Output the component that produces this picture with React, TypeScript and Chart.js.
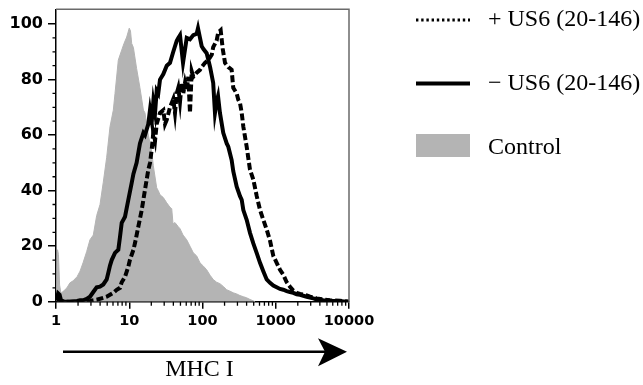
import React, { useEffect, useRef } from 'react';
import { Chart, registerables } from 'chart.js';

Chart.register(...registerables);

// ---- data ----
const xTickLabels = ['1', '10', '100', '1000', '10000'];
const yTickValues = [0, 20, 40, 60, 80, 100];
const yMinorValues = [5, 10, 15, 25, 30, 35, 45, 50, 55, 65, 70, 75, 85, 90, 95];
const legendLabels = ['+ US6 (20-146)', '\u2212 US6 (20-146)', 'Control'];
const axisTitle = 'MHC I';

const controlX = [1.02, 1.05, 1.08, 1.12, 1.17, 1.29, 1.41, 1.55, 1.71, 1.94, 2.13, 2.34, 2.62, 2.91, 3.23, 3.59, 3.99, 4.42, 4.92, 5.46, 6.06, 6.39, 7.09, 7.89, 8.48, 9.23, 10.0, 10.4, 10.8, 11.4, 12.6, 14.0, 15.6, 16.4, 18.2, 20.3, 21.3, 23.7, 24.9, 26.3, 29.2, 32.5, 36.0, 38.0, 39.6, 42.1, 46.7, 49.3, 54.2, 60.9, 67.5, 74.9, 83.3, 92.4, 103, 114, 127, 140, 156, 173, 192, 214, 237, 263, 293, 325, 361, 401, 445, 494, 521];
const controlY = [2, 18.7, 17, 6, 3, 4, 5, 6.8, 7.5, 9, 11, 14, 18, 22.3, 24, 31, 35, 43, 52, 63, 69, 75, 87, 90.6, 93, 95.3, 98.5, 97.5, 93, 91.5, 84, 77, 69, 68, 60, 54, 49, 41, 40, 38.5, 37.5, 35.6, 34, 33.5, 28, 28.5, 27, 26.3, 24, 22.3, 20, 17.6, 16.5, 14, 12.8, 11.5, 9.5, 8, 7, 6.5, 5.5, 4.3, 3.8, 3.2, 2.8, 2.2, 1.8, 1.4, 0.8, 0.3, 0];

const minusX = [1.02, 1.07, 1.12, 1.17, 1.29, 1.55, 1.94, 2.13, 2.34, 2.62, 2.91, 3.23, 3.59, 3.99, 4.42, 4.92, 5.18, 5.46, 5.76, 6.39, 7.09, 7.48, 7.89, 8.75, 9.71, 10.8, 11.4, 12.6, 14.0, 15.6, 16.4, 18.2, 19.2, 20.3, 21.3, 22.5, 23.7, 24.9, 26.3, 29.2, 32.5, 36.0, 39.9, 44.5, 46.7, 49.3, 54.2, 60.9, 67.5, 74.9, 83.3, 86.8, 92.4, 97.5, 103, 114, 127, 140, 148, 156, 163, 173, 192, 214, 225, 250, 263, 293, 325, 343, 361, 401, 445, 494, 550, 610, 676, 752, 835, 926, 1030, 1143, 1268, 1411, 1565, 1736, 1932, 2143, 2646, 3255, 3622, 4457, 5503, 7535, 10000];
const minusY = [0.5, 3, 2.5, 0.5, 0, 0, 0.3, 0.5, 0.5, 1, 1.8, 3.5, 5.2, 5.4, 6.2, 8, 10.4, 13, 15, 17.6, 18.7, 23.4, 28.4, 30.6, 36.7, 42.8, 46, 50, 57, 60.8, 60, 64, 69, 65, 72, 68, 76, 75, 80, 82, 85, 86, 90, 94, 95, 96, 86, 95, 94.5, 96, 96.5, 98.5, 95, 92, 91, 89.5, 84.5, 78.8, 68, 72, 74, 68, 60.8, 57, 55.8, 51, 47, 41.4, 38, 36.7, 33, 29.5, 24.8, 21, 17.5, 14, 11, 8, 6.8, 5.8, 5.2, 4.6, 4.3, 3.8, 3.5, 3.2, 2.7, 2.5, 1.8, 1.2, 0.8, 0.5, 0.3, 0.2, 0];

const plusX = [1.02, 1.55, 2.34, 2.91, 3.59, 4.42, 4.92, 5.46, 6.06, 6.74, 7.48, 7.89, 8.75, 9.71, 10.2, 11.4, 12.0, 13.3, 14.8, 16.4, 18.2, 19.2, 20.3, 21.3, 22.5, 23.7, 26.3, 29.2, 30.8, 32.5, 36.0, 38.0, 39.9, 42.1, 44.5, 46.7, 49.3, 52.0, 54.7, 57.7, 60.9, 64.0, 67.5, 71.2, 74.9, 83.3, 92.4, 97.5, 108, 120, 134, 140, 156, 164, 177, 189, 203, 225, 250, 263, 293, 308, 325, 343, 361, 401, 445, 494, 550, 610, 676, 752, 835, 926, 1030, 1143, 1268, 1411, 1565, 1736, 1932, 2143, 2646, 2935, 3622, 4457, 5503, 7535, 10000];
const plusY = [0, 0, 0, 0.3, 0.7, 1.4, 1.8, 2.5, 3.2, 4.3, 5, 7, 9, 12.6, 15, 18.7, 21.2, 27, 33, 40.3, 47.5, 50, 55, 60.8, 58, 64, 68, 69, 64, 65.5, 70, 71.6, 73, 68, 75, 77, 72, 78.8, 75, 78.8, 76, 81, 68, 83, 81, 82.5, 83.5, 84.5, 86, 87, 89, 91.7, 94, 97, 97.8, 91, 86, 84.5, 83.5, 77, 75, 72.7, 71.6, 68, 63, 55.8, 47.5, 44, 38, 33, 29.5, 26, 22, 16.5, 14, 11.5, 9.7, 7, 5.4, 4, 3.2, 2.8, 2.3, 1.8, 1.2, 0.8, 0.5, 0.3, 0];

const pairs = (xs: number[], ys: number[]) => xs.map((x, i) => ({ x, y: ys[i] }));

const SANS = '"DejaVu Sans", "Liberation Sans", Arial, sans-serif';
const SERIF = '"Liberation Serif", "Times New Roman", Times, serif';
const GREY = '#b4b4b4';

const decorPlugin = {
  id: 'decor',
  afterDraw(chart: any) {
    const ctx = chart.ctx as CanvasRenderingContext2D;
    const { left, right, top, bottom } = chart.chartArea;
    const xs = chart.scales.x;
    const ys = chart.scales.y;
    ctx.save();
    // frame (top and right)
    ctx.strokeStyle = '#6a6a6a';
    ctx.lineWidth = 1.5;
    ctx.beginPath();
    ctx.moveTo(left, top);
    ctx.lineTo(right, top);
    ctx.lineTo(right, bottom);
    ctx.stroke();
    // minor ticks
    ctx.strokeStyle = '#000';
    ctx.lineWidth = 1.3;
    ctx.beginPath();
    for (let d = 1; d < 10000; d *= 10) {
      for (let m = 2; m <= 9; m++) {
        const px = xs.getPixelForValue(m * d);
        ctx.moveTo(px, bottom);
        ctx.lineTo(px, bottom + 4);
      }
    }
    yMinorValues.forEach((v) => {
      const py = ys.getPixelForValue(v);
      ctx.moveTo(left - 3.5, py);
      ctx.lineTo(left, py);
    });
    ctx.stroke();

    // legend
    const lx0 = 416, lx1 = 470, tx = 488;
    ctx.strokeStyle = '#000';
    ctx.lineWidth = 3;
    ctx.setLineDash([2.4, 2.8]);
    ctx.beginPath();
    ctx.moveTo(lx0, 20);
    ctx.lineTo(lx1, 20);
    ctx.stroke();
    ctx.setLineDash([]);
    ctx.lineWidth = 4;
    ctx.beginPath();
    ctx.moveTo(lx0, 83.5);
    ctx.lineTo(lx1, 83.5);
    ctx.stroke();
    ctx.fillStyle = GREY;
    ctx.fillRect(lx0, 134, lx1 - lx0, 23);
    ctx.fillStyle = '#000';
    ctx.font = `24px ${SERIF}`;
    ctx.textAlign = 'left';
    ctx.textBaseline = 'alphabetic';
    ctx.fillText(legendLabels[0], tx, 26);
    ctx.fillText(legendLabels[1], tx, 90);
    ctx.fillText(legendLabels[2], tx, 154);

    // arrow
    const ay = 351.7;
    ctx.lineWidth = 2.5;
    ctx.beginPath();
    ctx.moveTo(63, ay);
    ctx.lineTo(325, ay);
    ctx.stroke();
    ctx.beginPath();
    ctx.moveTo(347, ay);
    ctx.lineTo(318, ay - 13.5);
    ctx.lineTo(325, ay);
    ctx.lineTo(318, ay + 14.5);
    ctx.closePath();
    ctx.fill();

    // axis title
    ctx.font = `24px ${SERIF}`;
    ctx.textAlign = 'center';
    ctx.fillText(axisTitle, 199.5, 376);
    ctx.restore();
  },
};

export default function App() {
  const ref = useRef<HTMLCanvasElement>(null);
  useEffect(() => {
    document.body.style.margin = '0';
    const canvas = ref.current!;
    const chart = new Chart(canvas, {
      type: 'line',
      data: {
        datasets: [
          {
            label: legendLabels[2],
            data: pairs(controlX, controlY),
            borderColor: GREY,
            backgroundColor: GREY,
            borderWidth: 1,
            fill: 'origin',
            pointRadius: 0,
            order: 3,
          },
          {
            label: legendLabels[1],
            data: pairs(minusX, minusY),
            borderColor: '#000',
            borderWidth: 4,
            fill: false,
            pointRadius: 0,
            order: 2,
          },
          {
            label: legendLabels[0],
            data: pairs(plusX, plusY),
            borderColor: '#000',
            borderWidth: 4,
            borderDash: [7, 3],
            fill: false,
            pointRadius: 0,
            order: 1,
          },
        ],
      },
      options: {
        responsive: false,
        animation: false,
        events: [],
        layout: { padding: { left: 0, right: 294, top: 9.3, bottom: 0 } },
        plugins: { legend: { display: false }, tooltip: { enabled: false } },
        scales: {
          x: {
            type: 'logarithmic',
            min: 1,
            max: 10000,
            border: { display: true, color: '#000', width: 1.5 },
            grid: { drawOnChartArea: false, drawTicks: true, tickLength: 7, color: '#000', lineWidth: 1.5 },
            ticks: {
              autoSkip: false,
              maxRotation: 0,
              padding: 4,
              color: '#000',
              font: { family: SANS, size: 14.5, weight: 'bold' },
              callback: (v: any) => xTickLabels.find((l) => Number(l) === Number(v)) ?? '',
            },
            afterBuildTicks: (s: any) => {
              s.ticks = xTickLabels.map((l) => ({ value: Number(l) }));
            },
            afterFit: (s: any) => {
              s.height = 385 - 301.7;
              s.paddingLeft = 0; s.paddingRight = 0; s.paddingTop = 0; s.paddingBottom = 0;
            },
          },
          y: {
            type: 'linear',
            min: 0,
            max: 105.3,
            border: { display: true, color: '#000', width: 1.5 },
            grid: { drawOnChartArea: false, drawTicks: true, tickLength: 8, color: '#000', lineWidth: 1.5 },
            ticks: {
              padding: 5,
              color: '#000',
              font: { family: SANS, size: 16, weight: 'bold' },
              callback: (v: any) => String(v),
            },
            afterBuildTicks: (s: any) => {
              s.ticks = yTickValues.map((v) => ({ value: v }));
            },
            afterFit: (s: any) => {
              s.width = 56;
              s.paddingLeft = 0; s.paddingRight = 0; s.paddingTop = 0; s.paddingBottom = 0;
            },
          },
        },
      } as any,
      plugins: [decorPlugin],
    });
    return () => chart.destroy();
  }, []);
  return <canvas ref={ref} width={643} height={385} style={{ display: 'block' }} />;
}
